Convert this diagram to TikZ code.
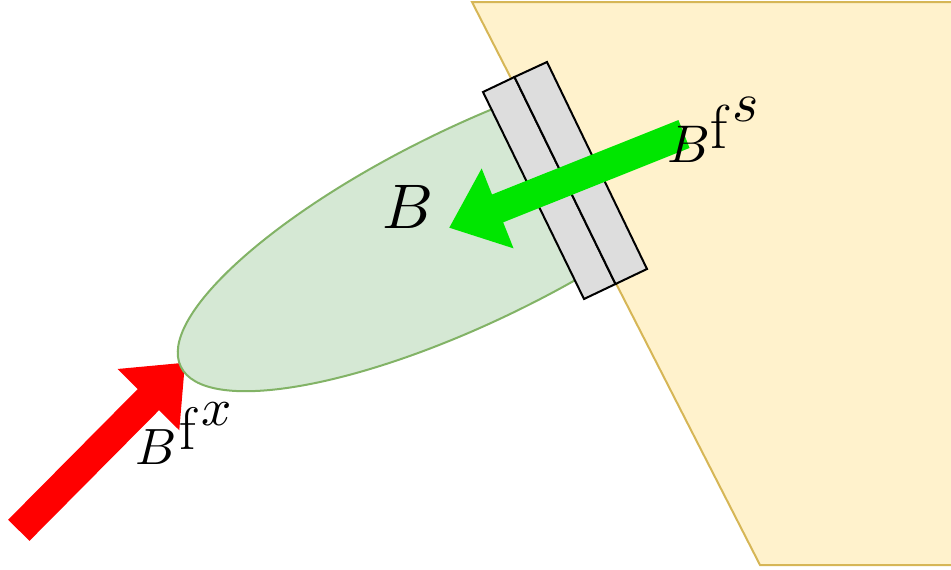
\RequirePackage{fix-cm}
\documentclass[tikz,border=0pt]{standalone}
\usepackage{graphicx}
\usetikzlibrary{calc}
\definecolor{yfill}{HTML}{FFF2CC}
\definecolor{ydraw}{HTML}{D6B656}
\definecolor{gfill}{HTML}{D5E8D4}
\definecolor{gdraw}{HTML}{82B366}
\definecolor{greybox}{HTML}{DDDDDD}
\definecolor{arrgreen}{RGB}{0,230,0}
\tikzset{
  trap/.style={fill=yfill, draw=ydraw, line width=2pt, line join=miter},
  blob/.style={fill=gfill, draw=gdraw, line width=2pt},
  gbox/.style={fill=greybox, draw=black, line width=2pt, line join=miter},
  lbl/.style={inner sep=0pt, outer sep=0pt, text=black},
}
\newcommand\scaledmath[2]{\scalebox{#1}{\normalsize$#2$}}
\begin{document}
\begin{tikzpicture}[x=1pt,y=-1pt]
\clip (0,0) rectangle (951,570);
% red arrow
\coordinate (rS) at (18.8,530.3);
\coordinate (rT) at (185,362.7);
\coordinate (rB) at ($(rT)!52pt!(rS)$);
\fill[red] (rT) -- ($(rB)!43.5pt!90:(rS)$) -- ($(rB)!15pt!90:(rS)$)
  -- ($(rS)!15pt!-90:(rT)$) -- ($(rS)!15pt!90:(rT)$)
  -- ($(rB)!15pt!-90:(rS)$) -- ($(rB)!43.5pt!-90:(rS)$) -- cycle;
% ellipse
\coordinate (ec) at (474.3,223.6);
\draw[blob, rotate around={26:(ec)}] (ec) ellipse [x radius=326.5, y radius=97];
% trapezoid
\coordinate (t1) at (472,2);
\coordinate (t2) at (960,2);
\coordinate (t3) at (960,565);
\coordinate (t4) at (760,565);
\draw[trap] (t1) -- (t2) -- (t3) -- (t4) -- cycle;
% grey plates
\coordinate (p1) at (483,92);
\coordinate (p2) at (514.5,77);
\coordinate (p3) at (547,62);
\coordinate (p4) at (647,269);
\coordinate (p5) at (615.5,284);
\coordinate (p6) at (584,299);
\draw[gbox] (p1) -- (p2) -- (p5) -- (p6) -- cycle;
\draw[gbox] (p2) -- (p3) -- (p4) -- (p5) -- cycle;
% green arrow
\coordinate (gS) at (684,134);
\coordinate (gT) at (449.3,227.7);
\coordinate (gB) at ($(gT)!52pt!(gS)$);
\fill[arrgreen] (gT) -- ($(gB)!43pt!90:(gS)$) -- ($(gB)!15pt!90:(gS)$)
  -- ($(gS)!15pt!-90:(gT)$) -- ($(gS)!15pt!90:(gT)$)
  -- ($(gB)!15pt!-90:(gS)$) -- ($(gB)!43pt!-90:(gS)$) -- cycle;
% labels
\node[lbl, anchor=base west] (lb) at (382.5,228) {\scaledmath{6.3}{B}};
\node[lbl, anchor=base west] (lfs) at (667,162) {\scaledmath{5.3}{B}\kern1pt\raisebox{14pt}{\fontsize{62}{64}\selectfont f\kern5pt\raisebox{26pt}{\scaledmath{5.6}{s}}}};
\node[lbl, anchor=base west] (lfx) at (135,464) {\scaledmath{5.1}{B}\kern3pt\raisebox{15pt}{\fontsize{60}{62}\selectfont f\kern6pt\raisebox{24pt}{\scaledmath{5.3}{x}}}};
\end{tikzpicture}
\end{document}
